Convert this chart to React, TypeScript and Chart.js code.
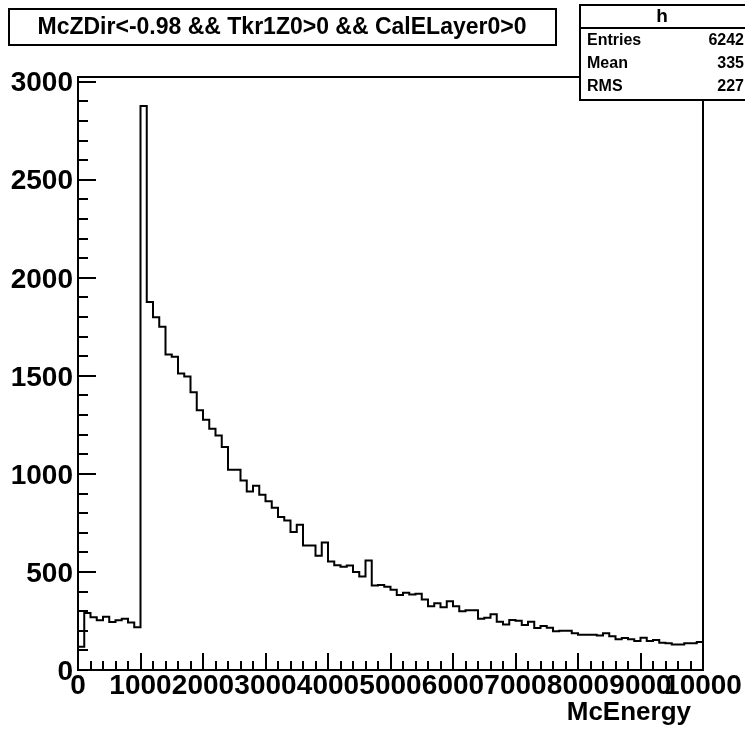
import React, { useEffect, useRef } from "react";
import { Chart, registerables } from "chart.js";
Chart.register(...registerables);

// Histogram "h": 100 bins of McEnergy from 0 to 10000
const binLowEdges: number[] = [
  0, 100, 200, 300, 400, 500, 600, 700, 800, 900,
  1000, 1100, 1200, 1300, 1400, 1500, 1600, 1700, 1800, 1900,
  2000, 2100, 2200, 2300, 2400, 2500, 2600, 2700, 2800, 2900,
  3000, 3100, 3200, 3300, 3400, 3500, 3600, 3700, 3800, 3900,
  4000, 4100, 4200, 4300, 4400, 4500, 4600, 4700, 4800, 4900,
  5000, 5100, 5200, 5300, 5400, 5500, 5600, 5700, 5800, 5900,
  6000, 6100, 6200, 6300, 6400, 6500, 6600, 6700, 6800, 6900,
  7000, 7100, 7200, 7300, 7400, 7500, 7600, 7700, 7800, 7900,
  8000, 8100, 8200, 8300, 8400, 8500, 8600, 8700, 8800, 8900,
  9000, 9100, 9200, 9300, 9400, 9500, 9600, 9700, 9800, 9900,
];
const xUpperEdge = 10000;

const binCounts: number[] = [
  118, 291, 269, 254, 271, 245, 254, 261, 242, 218,
  2876, 1876, 1799, 1751, 1609, 1597, 1512, 1497, 1417, 1324,
  1276, 1230, 1196, 1137, 1021, 1021, 966, 910, 940, 894,
  860, 828, 780, 763, 704, 741, 635, 635, 582, 650,
  553, 534, 526, 533, 500, 477, 559, 431, 433, 424,
  409, 383, 394, 385, 389, 359, 325, 340, 320, 351,
  325, 300, 305, 305, 261, 266, 284, 246, 232, 255,
  251, 229, 246, 214, 225, 215, 198, 200, 200, 187,
  180, 180, 180, 176, 187, 172, 157, 163, 157, 148,
  164, 148, 153, 139, 136, 130, 130, 136, 136, 143,
];

const xTickLabels: string[] = ["0", "1000", "2000", "3000", "4000", "5000", "6000", "7000", "8000", "9000", "10000"];
const yTickLabels: string[] = ["0", "500", "1000", "1500", "2000", "2500", "3000"];
const yMax = 3024;

const titleText = "McZDir<-0.98 && Tkr1Z0>0 && CalELayer0>0";
const xAxisTitle = "McEnergy";
const statsName = "h";
const statsLabels: string[] = ["Entries", "Mean", "RMS"];
const statsValues: string[] = ["6242", "335", "227"];

const FONT = '"Liberation Sans", Arial, Helvetica, sans-serif';

const decorPlugin = {
  id: "rootDecor",
  afterDatasetsDraw(chart: any) {
    const ctx: CanvasRenderingContext2D = chart.ctx;
    const xs = chart.scales.x;
    const ys = chart.scales.y;
    const { left, right, top, bottom } = chart.chartArea;
    ctx.save();
    ctx.strokeStyle = "#000";
    ctx.fillStyle = "#000";
    ctx.lineWidth = 2;
    // frame
    ctx.strokeRect(left, top, right - left, bottom - top);

    // x ticks: major every 1000, minor every 200
    ctx.beginPath();
    for (let v = 0; v <= 10000; v += 200) {
      const px = Math.round(xs.getPixelForValue(v));
      const len = v % 1000 === 0 ? 17 : 9;
      ctx.moveTo(px, bottom);
      ctx.lineTo(px, bottom - len);
    }
    // y ticks: major every 500, minor every 100
    for (let v = 0; v <= 3000; v += 100) {
      const py = Math.round(ys.getPixelForValue(v));
      const len = v % 500 === 0 ? 18 : 10;
      ctx.moveTo(left, py);
      ctx.lineTo(left + len, py);
    }
    ctx.stroke();

    // tick labels
    ctx.font = `bold 28px ${FONT}`;
    ctx.textAlign = "right";
    ctx.textBaseline = "middle";
    yTickLabels.forEach((t) => {
      const py = ys.getPixelForValue(Number(t));
      ctx.fillText(t, left - 5, py + 2);
    });
    ctx.textAlign = "center";
    ctx.textBaseline = "top";
    xTickLabels.forEach((t) => {
      const px = xs.getPixelForValue(Number(t));
      ctx.fillText(t, px, bottom + 2);
    });

    // axis title
    ctx.font = `bold 26px ${FONT}`;
    ctx.textAlign = "right";
    ctx.textBaseline = "alphabetic";
    ctx.fillText(xAxisTitle, right - 12, bottom + 50);

    // title box
    ctx.fillStyle = "#fff";
    ctx.fillRect(9, 9, 547, 36);
    ctx.strokeRect(9, 9, 547, 36);
    ctx.fillStyle = "#000";
    ctx.font = `bold 23px ${FONT}`;
    ctx.textAlign = "center";
    ctx.textBaseline = "middle";
    ctx.fillText(titleText, 282, 28);

    // stats box
    ctx.fillStyle = "#fff";
    ctx.fillRect(580, 5, 170, 95);
    ctx.strokeRect(580, 5, 170, 95);
    ctx.beginPath();
    ctx.moveTo(580, 28);
    ctx.lineTo(750, 28);
    ctx.stroke();
    ctx.fillStyle = "#000";
    ctx.font = `bold 19px ${FONT}`;
    ctx.textAlign = "center";
    ctx.fillText(statsName, 662, 17);
    ctx.font = `bold 16px ${FONT}`;
    statsLabels.forEach((lab, i) => {
      const y = 41 + i * 23;
      ctx.textAlign = "left";
      ctx.fillText(lab, 587, y);
      ctx.textAlign = "right";
      ctx.fillText(statsValues[i], 744, y);
    });
    ctx.restore();
  },
};

export default function App() {
  const ref = useRef<HTMLCanvasElement | null>(null);
  useEffect(() => {
    if (!ref.current) return;
    const points = binLowEdges.map((x, i) => ({ x, y: binCounts[i] }));
    points.push({ x: xUpperEdge, y: binCounts[binCounts.length - 1] });
    const chart = new Chart(ref.current, {
      type: "line",
      data: {
        datasets: [
          {
            label: statsName,
            data: points,
            stepped: "before",
            borderColor: "#000",
            borderWidth: 2,
            pointRadius: 0,
            fill: false,
          } as any,
        ],
      },
      options: {
        responsive: false,
        animation: false,
        devicePixelRatio: 1,
        layout: { padding: { left: 78, right: 42, top: 77, bottom: 63 } },
        plugins: { legend: { display: false }, tooltip: { enabled: false }, title: { display: false } },
        scales: {
          x: { type: "linear", min: 0, max: 10000, display: false },
          y: { type: "linear", min: 0, max: yMax, display: false },
        },
      },
      plugins: [decorPlugin],
    });
    return () => chart.destroy();
  }, []);
  return (
    <div style={{ position: "absolute", left: 0, top: 0, width: 745, height: 733, background: "#fff" }}>
      <canvas ref={ref} width={745} height={733} style={{ width: 745, height: 733 }} />
    </div>
  );
}
